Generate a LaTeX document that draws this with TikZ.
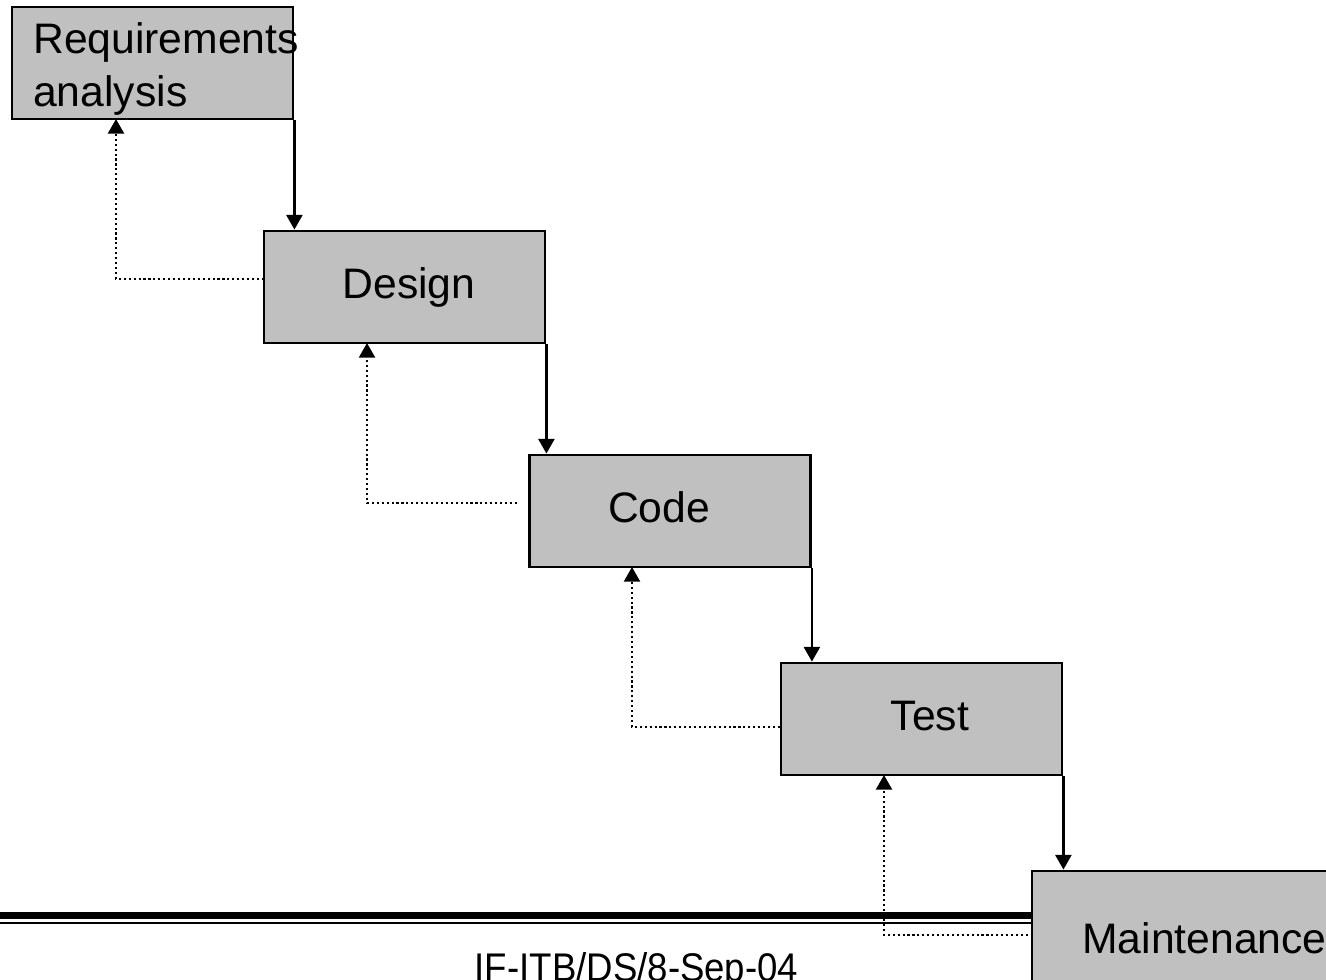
\documentclass[tikz,border=0pt]{standalone}
\usepackage{fontspec}
\setmainfont{Liberation Sans}
\newfontfamily\footfont[FakeStretch=0.915]{Liberation Sans}
\usetikzlibrary{arrows.meta}
\definecolor{boxgray}{RGB}{192,192,192}
\begin{document}
\begin{tikzpicture}[x=0.75pt,y=-0.75pt,
  stagebox/.style={draw=black, line width=2.1pt, fill=boxgray, minimum width=210.75pt, minimum height=84pt, inner sep=0pt},
  steptext/.style={font=\fontsize{32}{40}\selectfont, inner sep=0pt},
  flow/.style={line width=1.7pt, -{Triangle[width=12pt,length=11pt]}},
  fb/.style={line width=1.7pt, dash pattern=on 1.6pt off 2.1pt, -{Triangle[width=12pt,length=11pt]}},
  rule/.style={line width=#1}]
\useasboundingbox (0,0) rectangle (1326,980);
\clip (0,0) rectangle (1326,980);
% footer rules
\draw[rule=5.25pt] (0,915.5) -- (1326,915.5);
\draw[rule=1.5pt] (0,923) -- (1326,923);
% boxes
\node[stagebox] (req) at (152.5,63) {};
\node[stagebox] (des) at (404.5,287) {};
\node[stagebox] (cod) at (670,511) {};
\node[stagebox] (tst) at (921.5,719) {};
\node[stagebox, minimum width=240pt, minimum height=90pt] (mnt) at (1192,931) {};
% texts
\node[steptext, anchor=base west, align=left] (treq) at (33,107) {Requirements\\analysis};
\node[steptext, anchor=base] (tdes) at (409,298) {Design};
\node[steptext, anchor=base] (tcod) at (659,522) {Code};
\node[steptext, anchor=base] (ttst) at (930,730) {Test};
\node[steptext, anchor=base west] (tmnt) at (1082,953) {Maintenance};
\node[font=\footfont\fontsize{30}{36}\selectfont, inner sep=0pt, anchor=base] (foot) at (636.5,981) {IF-ITB/DS/8-Sep-04};
% forward arrows
\draw[flow] (req.south east) -- (req.south east |- des.north);
\draw[flow] (des.south east) -- (des.south east |- cod.north);
\draw[flow] (cod.south east) -- (cod.south east |- tst.north);
\draw[flow] (tst.south east) -- (tst.south east |- mnt.north);
% feedback arrows
\coordinate (f1) at (264,279);
\coordinate (f2) at (517,503);
\coordinate (f3) at (780,727);
\coordinate (f4) at (1028,935);
\coordinate (r1) at (116,119);
\coordinate (r2) at (367,343);
\coordinate (r3) at (632,567);
\coordinate (r4) at (884,775);
\draw[fb] (f1) -| (r1);
\draw[fb] (f2) -| (r2);
\draw[fb] (f3) -| (r3);
\draw[fb] (f4) -| (r4);
\end{tikzpicture}
\end{document}
